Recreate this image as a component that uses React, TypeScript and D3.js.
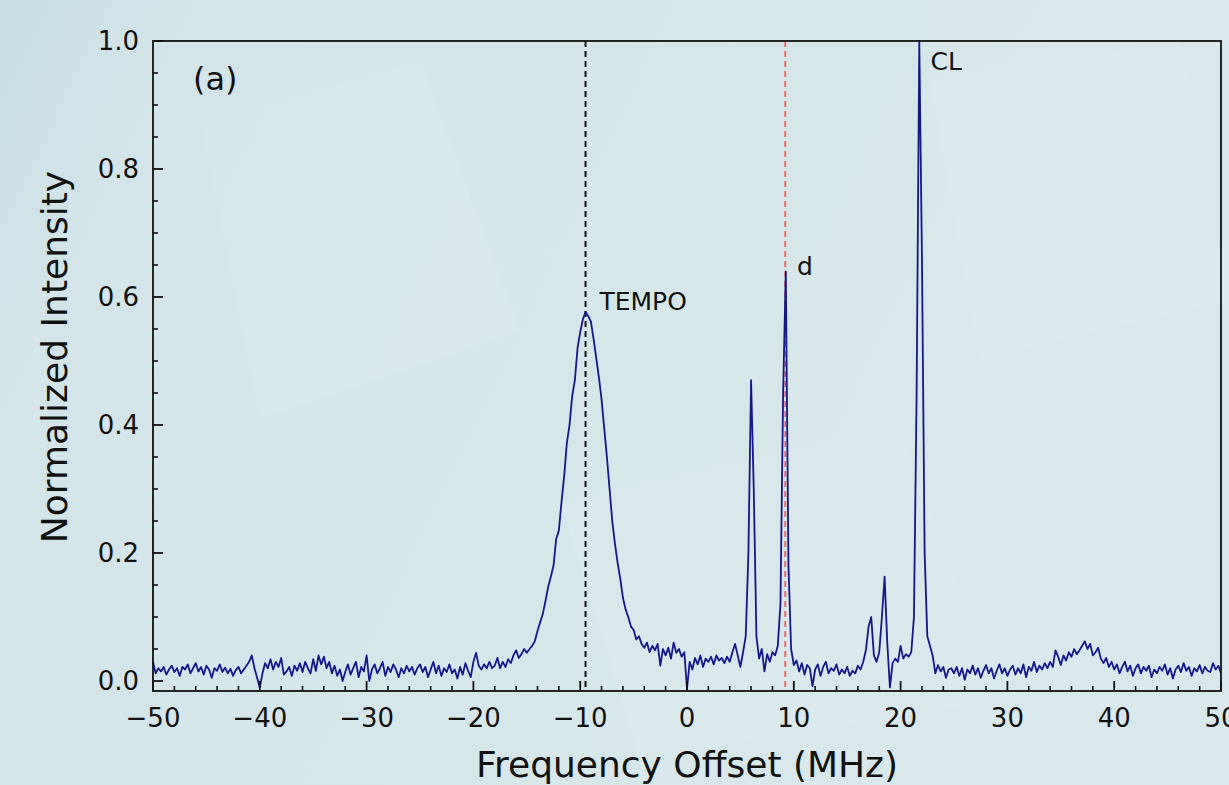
import React from "react";
import * as d3 from "d3";

// Sampling grid of the spectrum (MHz)
const freqStart = -50;
const freqStep = 0.25;

// Normalized intensity, one row per MHz (4 samples each)
const intensity: number[] = [
  0.03, 0.012, 0.02, 0.015, // -50
  0.022, 0.01, 0.018, 0.024, // -49
  0.014, 0.02, 0.008, 0.022, // -48
  0.018, 0.026, 0.012, 0.02, // -47
  0.028, 0.015, 0.022, 0.01, // -46
  0.024, 0.018, 0.005, 0.02, // -45
  0.016, 0.026, 0.014, 0.021, // -44
  0.012, 0.019, 0.008, 0.017, // -43
  0.022, 0.012, 0.018, 0.024, // -42
  0.03, 0.04, 0.02, 0.005, // -41
  -0.01, 0.012, 0.028, 0.02, // -40
  0.034, 0.018, 0.03, 0.022, // -39
  0.036, 0.01, 0.015, 0.022, // -38
  0.008, 0.024, 0.016, 0.028, // -37
  0.014, 0.03, 0.02, 0.012, // -36
  0.034, 0.016, 0.04, 0.026, // -35
  0.038, 0.02, 0.03, 0.012, // -34
  0.024, 0.008, 0.018, 0.0, // -33
  0.014, 0.026, 0.01, 0.02, // -32
  0.03, 0.006, 0.022, 0.015, // -31
  0.04, 0.0, 0.018, 0.026, // -30
  0.012, 0.02, 0.03, 0.008, // -29
  0.022, 0.014, 0.026, 0.018, // -28
  0.006, 0.02, 0.012, 0.024, // -27
  0.015, 0.022, 0.01, 0.02, // -26
  0.026, 0.014, 0.022, 0.006, // -25
  0.018, 0.03, 0.012, 0.024, // -24
  0.008, 0.02, 0.014, 0.026, // -23
  0.012, 0.018, 0.004, 0.022, // -22
  0.01, 0.028, 0.016, 0.006, // -21
  0.03, 0.044, 0.024, 0.018, // -20
  0.026, 0.02, 0.03, 0.02, // -19
  0.024, 0.036, 0.02, 0.03, // -18
  0.022, 0.034, 0.028, 0.04, // -17
  0.048, 0.036, 0.042, 0.05, // -16
  0.044, 0.05, 0.055, 0.062, // -15
  0.078, 0.092, 0.105, 0.125, // -14
  0.147, 0.163, 0.18, 0.222, // -13
  0.235, 0.28, 0.32, 0.372, // -12
  0.4, 0.445, 0.47, 0.52, // -11
  0.545, 0.565, 0.577, 0.57, // -10
  0.562, 0.535, 0.505, 0.475, // -9
  0.44, 0.395, 0.35, 0.3, // -8
  0.25, 0.215, 0.185, 0.16, // -7
  0.13, 0.112, 0.1, 0.085, // -6
  0.08, 0.065, 0.07, 0.058, // -5
  0.052, 0.06, 0.045, 0.055, // -4
  0.048, 0.058, 0.024, 0.05, // -3
  0.04, 0.052, 0.035, 0.06, // -2
  0.044, 0.05, 0.038, 0.045, // -1
  -0.012, 0.03, 0.018, 0.036, // 0
  0.026, 0.04, 0.022, 0.035, // 1
  0.03, 0.038, 0.026, 0.04, // 2
  0.032, 0.036, 0.028, 0.038, // 3
  0.03, 0.045, 0.058, 0.04, // 4
  0.022, 0.045, 0.07, 0.2, // 5
  0.47, 0.3, 0.07, 0.035, // 6
  0.05, 0.015, 0.042, 0.03, // 7
  0.045, 0.04, 0.055, 0.12, // 8
  0.45, 0.64, 0.18, 0.05, // 9
  0.025, 0.032, 0.015, 0.028, // 10
  0.01, 0.025, 0.02, -0.008, // 11
  0.018, 0.026, 0.008, 0.022, // 12
  0.03, 0.012, 0.02, 0.016, // 13
  0.026, 0.01, 0.018, 0.012, // 14
  0.022, 0.008, 0.016, 0.012, // 15
  0.024, 0.018, 0.03, 0.048, // 16
  0.085, 0.1, 0.04, 0.03, // 17
  0.045, 0.1, 0.163, 0.06, // 18
  -0.01, 0.028, 0.035, 0.03, // 19
  0.055, 0.035, 0.042, 0.038, // 20
  0.045, 0.1, 0.45, 1.0, // 21
  0.66, 0.2, 0.07, 0.055, // 22
  0.04, 0.012, 0.025, 0.015, // 23
  0.022, 0.005, 0.018, 0.02, // 24
  0.012, 0.022, 0.008, 0.02, // 25
  0.002, 0.018, 0.012, 0.024, // 26
  0.01, 0.02, 0.005, 0.016, // 27
  0.025, 0.012, 0.02, 0.004, // 28
  0.016, 0.026, 0.012, 0.02, // 29
  0.008, 0.018, 0.024, 0.01, // 30
  0.02, 0.012, 0.026, 0.006, // 31
  0.022, 0.016, 0.03, 0.014, // 32
  0.024, 0.018, 0.028, 0.02, // 33
  0.03, 0.022, 0.048, 0.038, // 34
  0.025, 0.04, 0.032, 0.045, // 35
  0.038, 0.05, 0.042, 0.048, // 36
  0.055, 0.062, 0.05, 0.058, // 37
  0.04, 0.045, 0.052, 0.035, // 38
  0.028, 0.036, 0.022, 0.03, // 39
  0.018, 0.026, 0.012, 0.022, // 40
  0.03, 0.015, 0.024, 0.008, // 41
  0.02, 0.026, 0.012, 0.022, // 42
  0.016, 0.024, 0.006, 0.018, // 43
  0.012, 0.022, 0.016, 0.026, // 44
  0.01, 0.02, 0.004, 0.018, // 45
  0.024, 0.014, 0.028, 0.016, // 46
  0.022, 0.008, 0.02, 0.015, // 47
  0.025, 0.012, 0.022, 0.016, // 48
  0.014, 0.028, 0.018, 0.024, // 49
  0.012, // 50
];

const xTickValues = [-50, -40, -30, -20, -10, 0, 10, 20, 30, 40, 50];
const yTickValues = [0, 0.2, 0.4, 0.6, 0.8, 1.0];
const xMinorStep = 2;
const yMinorStep = 0.05;

const markerLines = [
  { freq: -9.5, color: "#111111" },
  { freq: 9.2, color: "#f06a6a" },
];
const peakLabels = [
  { text: "TEMPO", freq: -8.2, value: 0.58 },
  { text: "d", freq: 10.3, value: 0.635 },
  { text: "CL", freq: 22.8, value: 0.955 },
];

const W = 1229;
const H = 785;
const M = { left: 153, right: 1221, top: 41, bottom: 691 };
const FONT = "'DejaVu Sans', Verdana, sans-serif";

export default function App() {
  const x = d3.scaleLinear().domain([-50, 50]).range([M.left, M.right]);
  const y = d3.scaleLinear().domain([-0.0156, 1.0]).range([M.bottom, M.top]);

  const pts = intensity.map((v, i) => [freqStart + i * freqStep, v] as [number, number]);
  const line = d3
    .line<[number, number]>()
    .x((d) => x(d[0]))
    .y((d) => y(d[1]));

  const xMinor = d3.range(-50, 50.001, xMinorStep).filter((v) => Math.abs(v % 10) > 1e-6);
  const yMinor = d3.range(0, 1.0001, yMinorStep).filter((v) => Math.abs((v / 0.2) - Math.round(v / 0.2)) > 1e-6);

  const fmtX = (v: number) => (v < 0 ? "\u2212" + Math.abs(v) : String(v));

  return (
    <svg
      width={W}
      height={H}
      style={{ position: "fixed", left: 0, top: 0, display: "block" }}
      fontFamily={FONT}
    >
      <defs>
        <linearGradient id="bg" x1="0" y1="0" x2="1" y2="0.3">
          <stop offset="0" stopColor="#c9dfe5" />
          <stop offset="0.15" stopColor="#d3e5e9" />
          <stop offset="0.6" stopColor="#d6e7ea" />
          <stop offset="1" stopColor="#d9e8eb" />
        </linearGradient>
      </defs>
      <rect x={0} y={0} width={W} height={H} fill="url(#bg)" />
      <polygon points="200,120 420,60 520,330 260,420" fill="#ffffff" opacity={0.06} />
      <polygon points="930,80 1180,40 1229,300 980,360" fill="#ffffff" opacity={0.07} />
      <polygon points="560,500 900,430 1000,700 640,760" fill="#ffffff" opacity={0.05} />

      {/* marker lines */}
      {markerLines.map((m, i) => (
        <line
          key={i}
          x1={x(m.freq)}
          x2={x(m.freq)}
          y1={M.top}
          y2={M.bottom}
          stroke={m.color}
          strokeWidth={2}
          strokeDasharray="6,4"
        />
      ))}

      {/* spectrum */}
      <path d={line(pts) || ""} fill="none" stroke="#16168e" strokeWidth={1.8} strokeLinejoin="round" />

      {/* frame */}
      <rect
        x={M.left}
        y={M.top}
        width={M.right - M.left}
        height={M.bottom - M.top}
        fill="none"
        stroke="#111"
        strokeWidth={1.8}
      />

      {/* x ticks */}
      {xTickValues.map((v) => (
        <g key={"xt" + v}>
          <line x1={x(v)} x2={x(v)} y1={M.bottom} y2={M.bottom - 10} stroke="#111" strokeWidth={1.8} />
          <text x={x(v)} y={727} textAnchor="middle" fontSize={26} fill="#111">
            {fmtX(v)}
          </text>
        </g>
      ))}
      {xMinor.map((v) => (
        <line key={"xm" + v} x1={x(v)} x2={x(v)} y1={M.bottom} y2={M.bottom - 5} stroke="#111" strokeWidth={1.6} />
      ))}

      {/* y ticks */}
      {yTickValues.map((v) => (
        <g key={"yt" + v}>
          <line x1={M.left} x2={M.left + 10} y1={y(v)} y2={y(v)} stroke="#111" strokeWidth={1.8} />
          <text x={139} y={y(v)} dy="0.36em" textAnchor="end" fontSize={26} fill="#111">
            {v.toFixed(1)}
          </text>
        </g>
      ))}
      {yMinor.map((v) => (
        <line key={"ym" + v} x1={M.left} x2={M.left + 5} y1={y(v)} y2={y(v)} stroke="#111" strokeWidth={1.6} />
      ))}

      {/* annotations */}
      <text x={193} y={90} fontSize={32} fill="#111">
        (a)
      </text>
      {peakLabels.map((p) => (
        <text key={p.text} x={x(p.freq)} y={y(p.value)} fontSize={25} fill="#111">
          {p.text}
        </text>
      ))}

      {/* axis titles */}
      <text x={(M.left + M.right) / 2} y={777} textAnchor="middle" fontSize={36} fill="#111">
        Frequency Offset (MHz)
      </text>
      <text
        transform={`translate(54, ${357}) rotate(-90)`}
        textAnchor="middle"
        dominantBaseline="central"
        fontSize={36}
        fill="#111"
      >
        Normalized Intensity
      </text>
    </svg>
  );
}
